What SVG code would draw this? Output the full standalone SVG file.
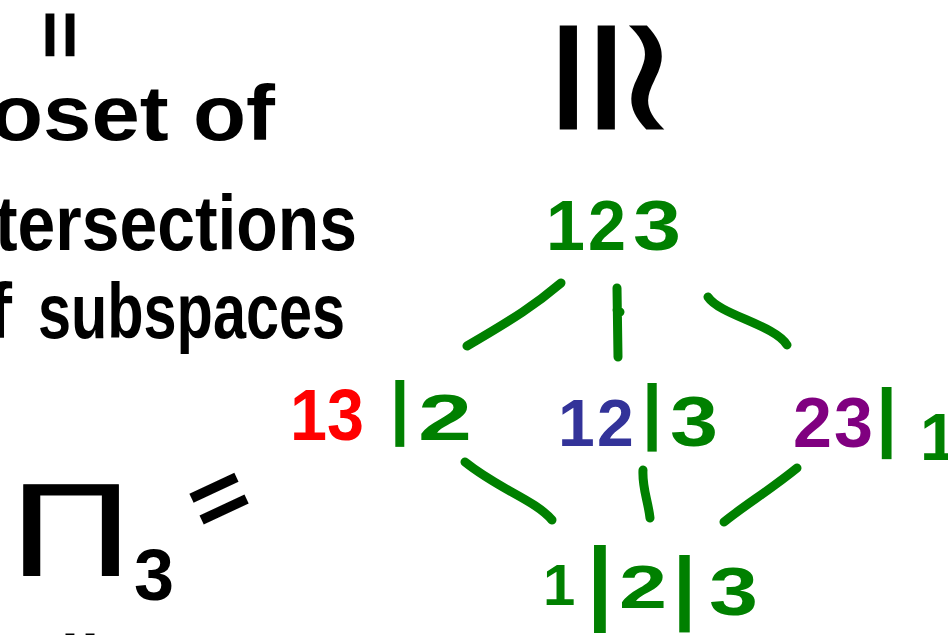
<svg xmlns="http://www.w3.org/2000/svg" width="948" height="635" viewBox="0 0 948 635">
<style>
.ink{font-family:"Liberation Sans","DejaVu Sans",sans-serif;font-weight:bold;}
.thin{font-weight:normal;}
.blk{fill:#000;}
.g{fill:#008000;}
.r{fill:#ff0000;}
.b{fill:#333399;}
.p{fill:#800080;}
.edge{fill:none;stroke:#008000;stroke-width:9;stroke-linecap:round;stroke-linejoin:round;}
</style>
<rect width="948" height="635" fill="#fff"/>
<g id="caption" class="ink blk">
  <text class="thin" x="0" y="0" font-size="82" stroke="#000" stroke-width="3" transform="translate(57,35) rotate(90) translate(-24,24)">=</text>
  <text x="-10" y="140" font-size="78" textLength="285" lengthAdjust="spacingAndGlyphs">oset of</text>
  <text x="-5" y="250" font-size="78" textLength="362" lengthAdjust="spacingAndGlyphs">tersections</text>
  <text y="338" font-size="78"><tspan x="-14">f</tspan><tspan x="38" textLength="307" lengthAdjust="spacingAndGlyphs">subspaces</tspan></text>
  <text class="thin" x="10" y="575" font-size="132" stroke="#000" stroke-width="1" textLength="122" lengthAdjust="spacingAndGlyphs">Π</text>
  <text x="134" y="600" font-size="72">3</text>
  <text class="thin" x="0" y="0" font-size="96" stroke="#000" stroke-width="3" transform="translate(222,500) rotate(-25) translate(-30,29)">=</text>
  <text class="thin" x="0" y="0" font-size="82" stroke="#000" stroke-width="3" transform="translate(77,655) rotate(90) translate(-24,24)">=</text>
</g>
<g id="iso" class="ink blk">
  <text class="thin" x="0" y="0" font-size="166" font-family="DejaVu Sans" transform="translate(612,78) rotate(90) scale(1,1.25) translate(-70,57)">≅</text>
</g>
<g id="connectors">
  <path class="edge" d="M561,283 C535,305 515,318 467,346"/>
  <path class="edge" d="M617,288 L618,357 M617,310 L620,312"/>
  <path class="edge" d="M708,297 C720,315 775,325 787,345"/>
  <path class="edge" d="M465,462 C500,490 535,500 552,520"/>
  <path class="edge" d="M643,470 C642,488 648,500 650,518"/>
  <path class="edge" d="M797,468 C770,490 745,505 724,522"/>
</g>
<g id="n123" class="ink g">
  <text y="250" font-size="70"><tspan x="546">1</tspan><tspan x="588" textLength="38" lengthAdjust="spacingAndGlyphs">2</tspan><tspan x="633" textLength="48" lengthAdjust="spacingAndGlyphs">3</tspan></text>
</g>
<g id="n13_2" class="ink">
  <text class="r" x="290" y="440" font-size="72" textLength="74" lengthAdjust="spacingAndGlyphs">13</text>
  <text class="g" x="390" y="431" font-size="70">|</text>
  <text class="g" x="418" y="440" font-size="64" textLength="54" lengthAdjust="spacingAndGlyphs">2</text>
</g>
<g id="n12_3" class="ink">
  <text class="b" y="446" font-size="66"><tspan x="558">1</tspan><tspan x="597">2</tspan></text>
  <text class="g" x="642" y="436" font-size="72">|</text>
  <text class="g" x="670" y="446" font-size="70" textLength="48" lengthAdjust="spacingAndGlyphs">3</text>
</g>
<g id="n23_1" class="ink">
  <text class="p" y="447" font-size="70"><tspan x="793">2</tspan><tspan x="834">3</tspan></text>
  <text class="g" x="876" y="442" font-size="76">|</text>
  <text class="g" x="920" y="460" font-size="66">1</text>
</g>
<g id="n1_2_3" class="ink g">
  <text x="543" y="605" font-size="58">1</text>
  <text x="587" y="612" font-size="92">|</text>
  <text x="619" y="608" font-size="62" textLength="48" lengthAdjust="spacingAndGlyphs">2</text>
  <text x="673" y="614" font-size="82">|</text>
  <text x="709" y="615" font-size="68" textLength="49" lengthAdjust="spacingAndGlyphs">3</text>
</g>
</svg>
